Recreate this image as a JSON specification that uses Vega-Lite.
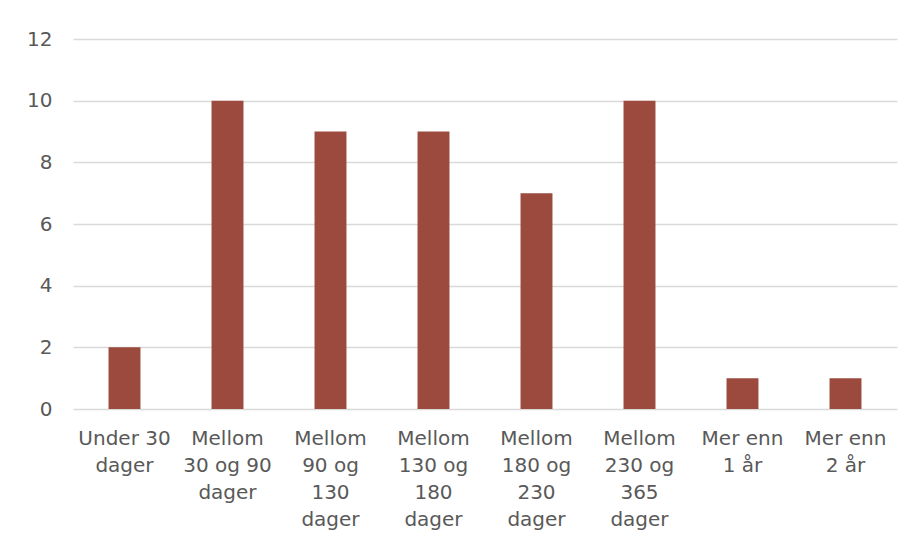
{
  "$schema": "https://vega.github.io/schema/vega-lite/v6.json",
  "width": 824,
  "height": 370,
  "autosize": "none",
  "padding": {"left": 73, "top": 39, "right": 17, "bottom": 135},
  "background": "white",
  "config": {"view": {"stroke": null}, "font": "DejaVu Sans"},
  "data": {
    "values": [
      {"kategori": "Under 30|dager", "antall": 2},
      {"kategori": "Mellom|30 og 90|dager", "antall": 10},
      {"kategori": "Mellom|90 og|130|dager", "antall": 9},
      {"kategori": "Mellom|130  og|180|dager", "antall": 9},
      {"kategori": "Mellom|180 og|230|dager", "antall": 7},
      {"kategori": "Mellom|230 og|365|dager", "antall": 10},
      {"kategori": "Mer enn|1 år", "antall": 1},
      {"kategori": "Mer enn|2 år", "antall": 1}
    ]
  },
  "mark": {"type": "bar", "color": "#9B4A3D"},
  "encoding": {
    "x": {
      "field": "kategori",
      "type": "nominal",
      "sort": null,
      "scale": {"paddingInner": 0.69, "paddingOuter": 0.345},
      "axis": {
        "title": null,
        "labelAngle": 0,
        "labelExpr": "split(datum.label, '|')",
        "labelFont": "DejaVu Sans",
        "labelFontSize": 20,
        "labelColor": "#595959",
        "labelLineHeight": 27,
        "labelPadding": 29,
        "labelBaseline": "middle",
        "ticks": false,
        "domain": false
      }
    },
    "y": {
      "field": "antall",
      "type": "quantitative",
      "scale": {"domain": [0, 12]},
      "axis": {
        "title": null,
        "values": [0, 2, 4, 6, 8, 10, 12],
        "labelFont": "DejaVu Sans",
        "labelFontSize": 20,
        "labelColor": "#595959",
        "labelPadding": 21,
        "ticks": false,
        "domain": false,
        "gridColor": "#d9d9d9",
        "gridWidth": 1.5
      }
    }
  }
}
